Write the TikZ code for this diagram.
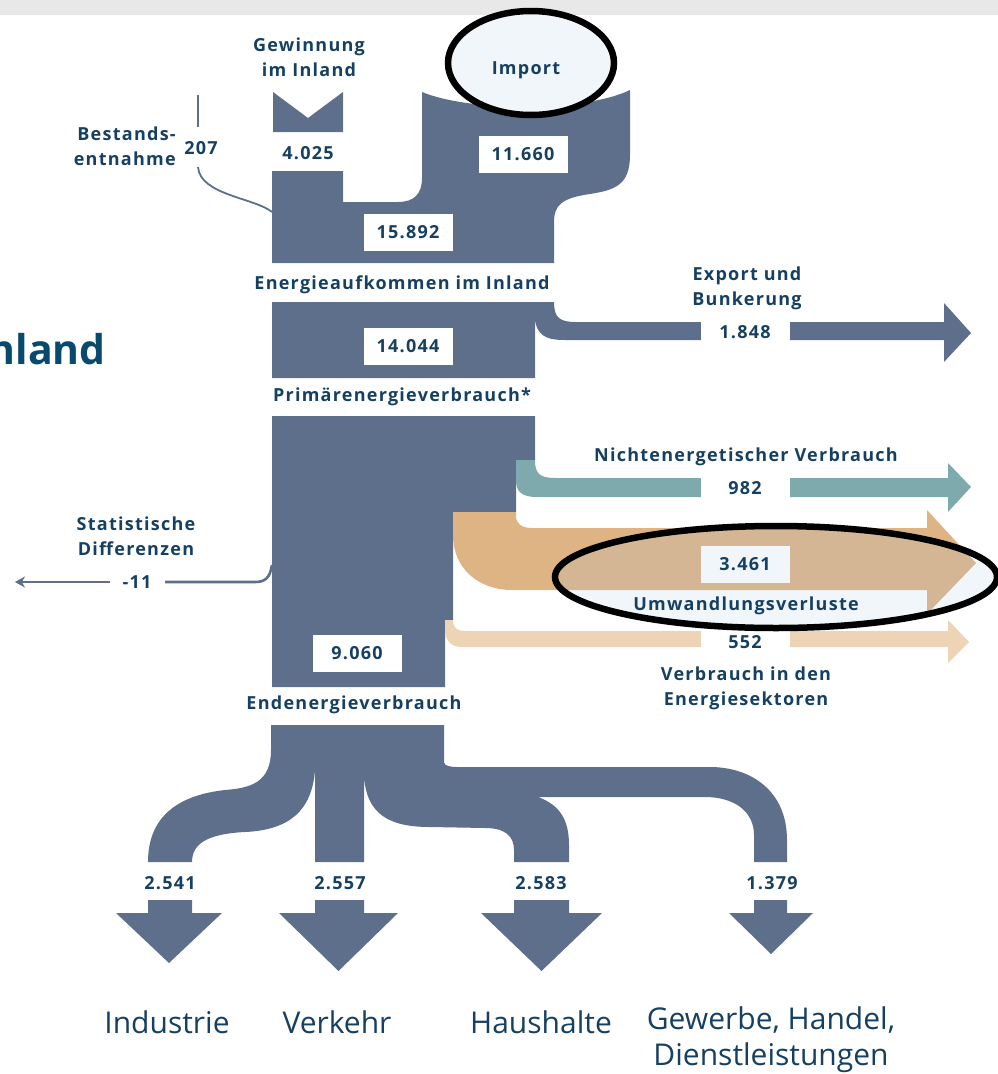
\documentclass[tikz,border=0pt]{standalone}
\usepackage{fontspec}
\setmainfont{Open Sans}
\newfontfamily\lblfamily{Open Sans}[LetterSpace=7]
\usetikzlibrary{arrows.meta}

\definecolor{flowblue}{RGB}{93,111,139}
\definecolor{flowteal}{RGB}{126,170,173}
\definecolor{flowtan}{RGB}{223,180,133}
\definecolor{tanlit}{RGB}{212,182,148}
\definecolor{flowlight}{RGB}{237,212,180}
\definecolor{ellfill}{RGB}{241,246,251}
\definecolor{textblue}{RGB}{22,64,98}
\definecolor{titleblue}{RGB}{8,74,110}
\definecolor{topgray}{RGB}{232,232,232}

\newcommand{\lblfont}{\lblfamily\fontsize{18}{25}\selectfont\bfseries}
\newcommand{\sectorfont}{\fontsize{30}{36}\selectfont}
\newcommand{\tanflow}{(453,512) -- (516,512) -- (516,516) .. controls (516,524) and (522,528) .. (532,528)
  -- (927,528) -- (927,510) -- (976,563) -- (927,614) -- (927,590) -- (512,590)
  .. controls (478,590) and (453,568) .. (453,535) -- cycle}

\tikzset{
  flow/.style={fill=flowblue},
  lbl/.style={text=textblue, font=\lblfont, align=center, inner sep=0},
  valbox/.style={fill=white, text=textblue, font=\lblfont, minimum width=89, minimum height=37, inner sep=0},
  gapbox/.style={fill=white, text=textblue, font=\lblfont, minimum width=89, minimum height=30, inner sep=0},
  sector/.style={text=textblue, font=\sectorfont, align=center, inner sep=0},
  hilite/.style={draw=black, line width=6.5},
  leader/.style={draw=flowblue, line width=1.8},
}

\begin{document}
\begin{tikzpicture}[x=1pt,y=-1pt]
\useasboundingbox (0,0) rectangle (998,1074);
\fill[topgray] (0,0) rectangle (998,15);

%title, cut at the left edge
\node[anchor=base east, text=titleblue, font=\fontsize{41}{50}\selectfont\bfseries, inner sep=0] (title) at (106,364) {nland};

%aufkommen
\fill[flow] (273,92) -- (308,118) -- (343,92) -- (343,132) -- (273,132) -- cycle;
\fill[flow] (272,171) -- (343,171) -- (343,202) -- (398,202) .. controls (414,202) and (422,194) .. (422,178)
  -- (422,92) .. controls (470,112) and (585,112) .. (630,90) -- (630,155)
  .. controls (630,185) and (615,190) .. (590,194) .. controls (562,198) and (554,205) .. (554,222)
  -- (554,263) -- (272,263) -- cycle;

%primaer + export
\fill[flow] (272,302) -- (554,302) .. controls (554,318) and (560,322) .. (576,322) -- (944,322)
  -- (944,303) -- (971,333) -- (944,362) -- (944,340) -- (565,340)
  .. controls (545,340) and (535,335) .. (535,315) -- (535,378) -- (272,378) -- cycle;

%endenergie block
\fill[flow] (272,416) -- (535,416) -- (535,460) -- (516,460) -- (516,512) -- (453,512) -- (453,620)
  -- (445,620) -- (445,687) -- (272,687) -- cycle;
\fill[flowteal] (516,460) -- (535,460) .. controls (535,474) and (540,478) .. (556,478) -- (948,478)
  -- (948,463) -- (971,487) -- (948,512) -- (948,497) -- (537,497)
  .. controls (522,497) and (516,492) .. (516,480) -- cycle;
\fill[flowtan] \tanflow;
\fill[flowlight] (445,620) -- (453,620) .. controls (453,627) and (456,631) .. (465,631) -- (948,631)
  -- (948,620) -- (969,642) -- (948,663) -- (948,647) -- (462,647)
  .. controls (450,647) and (445,640) .. (445,628) -- cycle;

%sektoren
\fill[flow] (271,725) -- (444,725) -- (444,762) .. controls (444,766) and (450,767) .. (458,767) -- (710,767)
  .. controls (750,767) and (787,790) .. (787,840) -- (787,862) -- (754,862) -- (754,835)
  .. controls (754,812) and (735,797) .. (705,797) -- (538,797)
  .. controls (560,805) and (569,820) .. (569,845) -- (569,862) -- (514,862) -- (514,850)
  .. controls (514,836) and (505,828) .. (485,828) -- (430,827)
  .. controls (390,827) and (366,815) .. (364,775) -- (364,862) -- (315,862) -- (315,770)
  .. controls (312,810) and (290,830) .. (245,832) .. controls (205,834) and (192,845) .. (192,862)
  -- (148,862) .. controls (148,815) and (180,795) .. (225,790) .. controls (250,788) and (271,783) .. (271,750) -- cycle;
\foreach \sl/\sr/\hl/\hr/\ty in {148/192/116/222/963, 315/364/279/398/971, 514/569/481/602/971, 754/787/729/813/954}
  \fill[flow] (\sl,900) -- (\sr,900) -- (\sr,913) -- (\hr,913) -- ({(\hl+\hr)/2},\ty) -- (\hl,913) -- (\sl,913) -- cycle;

%thin lines
\coordinate (stockA) at (198,95);
\coordinate (stockB) at (198,127);
\coordinate (stockC) at (198,167);
\coordinate (stockD) at (272,212);
\draw[leader] (stockA) -- (stockB);
\draw[leader] (stockC) .. controls (200,195) and (255,198) .. (stockD);
\coordinate (statA) at (272,565);
\coordinate (statB) at (165,582);
\coordinate (statC) at (110,582);
\coordinate (statD) at (15,582);
\draw[leader, line width=2.6] (statA) .. controls (270,578) and (265,582) .. (255,582) -- (statB);
\draw[leader, line width=2.6, -{Stealth[length=10pt,width=11pt]}] (statC) -- (statD);

%labels
\node[lbl] (gew) at (309,57) {Gewinnung\\im Inland};
\node[lbl, align=right, anchor=east] (stock) at (176,146) {Bestands-\\entnahme};
\node[lbl] (stockval) at (201,148) {207};
\node[lbl] (gewval) at (308,153) {4.025};
\node[valbox] (impval) at (523,154) {11.660};
\node[valbox] (aufval) at (408,232) {15.892};
\node[lbl] (auf) at (402,285) {Energieaufkommen im Inland};
\node[lbl] (exp) at (747,288) {Export und\\Bunkerung};
\node[gapbox] (expval) at (745,332) {1.848};
\node[valbox] (primval) at (408,346) {14.044};
\node[lbl] (prim) at (402,397) {Primärenergieverbrauch*};
\node[lbl] (nicht) at (746,457) {Nichtenergetischer Verbrauch};
\node[gapbox] (nichtval) at (745,488) {982};
\node[gapbox] (sekval) at (745,642) {552};
\node[lbl] (sek) at (746,688) {Verbrauch in den\\Energiesektoren};
\node[lbl] (stat) at (136,536) {Statistische\\Differenzen};
\node[lbl] (statval) at (137,582) {-11};
\node[valbox] (endval) at (357,653) {9.060};
\node[lbl] (endv) at (354,705) {Endenergieverbrauch};

\node[lbl] (indval) at (170,883) {2.541};
\node[lbl] (verval) at (340,883) {2.557};
\node[lbl] (hausval) at (541,883) {2.583};
\node[lbl] (gewerbval) at (772,883) {1.379};
\node[sector] (ind) at (167,1022) {Industrie};
\node[sector] (ver) at (337,1022) {Verkehr};
\node[sector] (haus) at (541,1022) {Haushalte};
\node[sector] (gewerb) at (771,1040) {Gewerbe, Handel,\\Dienstleistungen};

%highlights
\fill[ellfill] (531,63) ellipse [x radius=83, y radius=52];
\node[lbl] (imp) at (526,70) {Import};
\draw[hilite] (531,63) ellipse [x radius=83, y radius=52];

\fill[ellfill] (776,577) ellipse [x radius=221, y radius=51];
\begin{scope}
  \clip (776,577) ellipse [x radius=221, y radius=51];
  \fill[tanlit] \tanflow;
\end{scope}
\node[valbox, fill=ellfill] (umwval) at (745,564) {3.461};
\node[lbl] (umw) at (746,606) {Umwandlungsverluste};
\draw[hilite] (776,577) ellipse [x radius=221, y radius=51];
\end{tikzpicture}
\end{document}
